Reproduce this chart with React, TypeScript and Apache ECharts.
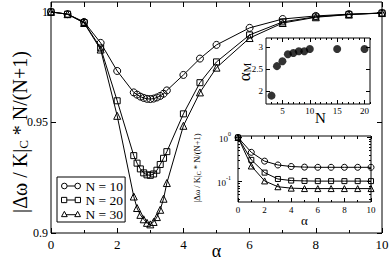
import React, { useEffect, useRef } from 'react';
import * as echarts from 'echarts';

// ---------- data ----------
const alphaMain = [0, 0.5, 1, 1.5, 2, 2.5, 2.6, 2.7, 2.8, 2.9, 3.0, 3.1, 3.2, 3.3, 3.4, 3.5, 4, 4.5, 5, 6, 7, 8, 9, 10];
const n10Main = [1, 0.999, 0.9955, 0.986, 0.9733, 0.9636, 0.9626, 0.9617, 0.9611, 0.9607, 0.9606, 0.9608, 0.9613, 0.962, 0.963, 0.9645, 0.9715, 0.9789, 0.9851, 0.9928, 0.9968, 0.9982, 0.999, 0.9995];
const n20Main = [1, 0.999, 0.9952, 0.9837, 0.9598, 0.935, 0.9316, 0.929, 0.9272, 0.9263, 0.9261, 0.9267, 0.9284, 0.931, 0.9338, 0.9368, 0.9539, 0.968, 0.9774, 0.9896, 0.9955, 0.9978, 0.9989, 0.9995];
const n30Main = [1, 0.999, 0.995, 0.983, 0.953, 0.9165, 0.9113, 0.9082, 0.9062, 0.9046, 0.9039, 0.905, 0.9072, 0.9105, 0.9155, 0.9226, 0.9485, 0.9636, 0.9748, 0.9882, 0.995, 0.9976, 0.9988, 0.9995];

const nInset = [3, 4, 5, 6, 7, 8, 9, 10, 15, 20];
const alphaM = [1.89, 2.56, 2.67, 2.83, 2.86, 2.9, 2.9, 2.95, 2.95, 2.95];

const alphaLog = [0, 1, 2, 3, 4, 5, 6, 7, 8, 9, 10];
const n10Log = [1, 0.46, 0.29, 0.237, 0.219, 0.212, 0.21, 0.21, 0.21, 0.21, 0.21];
const n20Log = [1, 0.31, 0.159, 0.114, 0.105, 0.103, 0.102, 0.102, 0.102, 0.102, 0.102];
const n30Log = [1, 0.225, 0.103, 0.076, 0.0705, 0.069, 0.069, 0.069, 0.069, 0.069, 0.069];

const legendNames = ['N = 10', 'N = 20', 'N = 30'];
const mainYTicks = [0.9, 0.95, 1];
const insetXMajor = [5, 10, 15, 20];
const insetXMinor = [3, 4, 6, 7, 8, 9, 11, 12, 13, 14, 16, 17, 18, 19, 21];
const insetYTicks = [2, 2.5, 3];
const logMajor = [0.1, 1];
const logMinor = [0.04, 0.05, 0.06, 0.07, 0.08, 0.09, 0.2, 0.3, 0.4, 0.5, 0.6, 0.7, 0.8, 0.9];

// ---------- styles ----------
const FONT = '"Liberation Serif", "DejaVu Serif", serif';
const BLACK = '#000';

const ICON_CIRCLE = 'path://M0.25,3A2.75,2.75,0,1,1,5.75,3A2.75,2.75,0,1,1,0.25,3Z M5.75,3L13.25,3 M13.25,3A2.75,2.75,0,1,1,18.75,3A2.75,2.75,0,1,1,13.25,3Z';
const ICON_SQUARE = 'path://M0.5,0.5L5.5,0.5L5.5,5.5L0.5,5.5Z M5.5,3L13.5,3 M13.5,0.5L18.5,0.5L18.5,5.5L13.5,5.5Z';
const ICON_TRI = 'path://M3,0.3L5.8,5.5L0.2,5.5Z M4.6,3.6L14.4,3.6 M16,0.3L18.8,5.5L13.2,5.5Z';

const zip = (xs: number[], ys: number[]) => xs.map((x, i) => [x, ys[i]]);

const hollow = { color: 'none', borderColor: BLACK, borderWidth: 1 };

function tickAxis(o: any) {
  return {
    type: 'value',
    axisLine: { show: false, onZero: false },
    splitLine: { show: false },
    axisLabel: { show: false },
    nameMoveOverlap: false,
    ...o,
    axisTick: { show: true, inside: true, length: 4, lineStyle: { color: BLACK, width: 1 }, ...(o.axisTick || {}) },
  };
}

const labelStyle = (size: number, margin: number, extra: any = {}) => ({
  show: true, color: BLACK, fontFamily: FONT, fontSize: size, margin, ...extra,
});

const gridBase = { show: true, borderColor: BLACK, borderWidth: 1, containLabel: false, outerBoundsMode: 'none' };

const option: any = {
  animation: false,
  backgroundColor: '#fff',
  textStyle: { fontFamily: FONT, color: BLACK },
  grid: [
    { ...gridBase, left: 51, top: 2, width: 331, height: 231, backgroundColor: 'transparent' },
    { ...gridBase, left: 266, top: 38, width: 104, height: 66, backgroundColor: '#fff' },
    { ...gridBase, left: 238, top: 136, width: 133, height: 66, backgroundColor: '#fff' },
  ],
  xAxis: [
    tickAxis({
      gridIndex: 0, position: 'bottom', min: 0, max: 10, interval: 2,
      axisTick: { length: 5 },
      minorTick: { show: true, splitNumber: 2, length: 3, lineStyle: { color: BLACK } },
      axisLabel: labelStyle(13, 5),
      name: 'α', nameLocation: 'middle', nameGap: 11,
      nameTextStyle: { fontFamily: FONT, fontSize: 18, lineHeight: 14, color: BLACK },
    }),
    tickAxis({ gridIndex: 0, position: 'top', min: 0, max: 10, interval: 1, axisTick: { length: 5 } }),
    tickAxis({
      gridIndex: 1, position: 'bottom', min: 2, max: 21,
      axisTick: { length: 4, customValues: insetXMajor },
      axisLabel: labelStyle(9, 2, { customValues: insetXMajor }),
      name: 'N', nameLocation: 'middle', nameGap: 7,
      nameTextStyle: { fontFamily: FONT, fontSize: 15, lineHeight: 14, color: BLACK, padding: [0, 0, 0, 5] },
    }),
    tickAxis({ gridIndex: 1, position: 'bottom', min: 2, max: 21, axisTick: { length: 2, customValues: insetXMinor } }),
    tickAxis({ gridIndex: 1, position: 'top', min: 2, max: 21, axisTick: { length: 4, customValues: insetXMajor } }),
    tickAxis({ gridIndex: 1, position: 'top', min: 2, max: 21, axisTick: { length: 2, customValues: insetXMinor } }),
    tickAxis({
      gridIndex: 2, position: 'bottom', min: 0, max: 10, interval: 2,
      axisTick: { length: 4 },
      minorTick: { show: true, splitNumber: 2, length: 2, lineStyle: { color: BLACK } },
      axisLabel: labelStyle(9, 3),
      name: 'α', nameLocation: 'middle', nameGap: 12,
      nameTextStyle: { fontFamily: FONT, fontSize: 13, lineHeight: 12, color: BLACK },
    }),
    tickAxis({ gridIndex: 2, position: 'top', min: 0, max: 10, interval: 1, axisTick: { length: 3 } }),
  ],
  yAxis: [
    tickAxis({
      gridIndex: 0, position: 'left', min: 0.9, max: 1.0045,
      axisTick: { length: 5, customValues: mainYTicks },
      axisLabel: labelStyle(12, 3, { customValues: mainYTicks }),
    }),
    tickAxis({ gridIndex: 0, position: 'right', min: 0.9, max: 1.0045, axisTick: { length: 5, customValues: mainYTicks } }),
    tickAxis({
      gridIndex: 1, position: 'left', min: 1.7, max: 3.2,
      axisTick: { length: 4, customValues: insetYTicks },
      axisLabel: labelStyle(9, 3, { customValues: insetYTicks }),
    }),
    tickAxis({ gridIndex: 1, position: 'right', min: 1.7, max: 3.2, axisTick: { length: 4, customValues: insetYTicks } }),
    tickAxis({
      type: 'log', logBase: 10, gridIndex: 2, position: 'left', min: 0.0342, max: 1.08,
      axisTick: { length: 4, customValues: logMajor },
      axisLabel: labelStyle(9, 7, {
        customValues: logMajor,
        formatter: (v: number) => (v > 0.5 ? '{b|10}{sup|0}' : '{b|10}{sup|-1}'),
        rich: {
          b: { fontFamily: FONT, fontSize: 9, lineHeight: 12, verticalAlign: 'bottom', color: BLACK },
          sup: { fontFamily: FONT, fontSize: 6, lineHeight: 6, verticalAlign: 'top', color: BLACK },
        },
      }),
    }),
    tickAxis({ type: 'log', logBase: 10, gridIndex: 2, position: 'left', min: 0.0342, max: 1.08, axisTick: { length: 2, customValues: logMinor } }),
    tickAxis({ type: 'log', logBase: 10, gridIndex: 2, position: 'right', min: 0.0342, max: 1.08, axisTick: { length: 4, customValues: logMajor } }),
    tickAxis({ type: 'log', logBase: 10, gridIndex: 2, position: 'right', min: 0.0342, max: 1.08, axisTick: { length: 2, customValues: logMinor } }),
  ],
  legend: {
    orient: 'vertical', left: 57, top: 177, padding: [2, 2, 1, 2], itemGap: 0,
    itemWidth: 19, itemHeight: 6, selectedMode: false,
    backgroundColor: '#fff', borderColor: BLACK, borderWidth: 1, borderRadius: 0,
    textStyle: { fontFamily: FONT, fontSize: 13.5, color: BLACK, lineHeight: 13 },
    data: [
      { name: legendNames[0], icon: ICON_CIRCLE, itemStyle: hollow },
      { name: legendNames[1], icon: ICON_SQUARE, itemStyle: hollow },
      { name: legendNames[2], icon: ICON_TRI, itemStyle: hollow },
    ],
  },
  series: [
    { name: legendNames[0], type: 'line', xAxisIndex: 0, yAxisIndex: 0, data: zip(alphaMain, n10Main), symbol: 'circle', symbolSize: 7, itemStyle: hollow, lineStyle: { color: BLACK, width: 1 } },
    { name: legendNames[1], type: 'line', xAxisIndex: 0, yAxisIndex: 0, data: zip(alphaMain, n20Main), symbol: 'rect', symbolSize: 6, itemStyle: hollow, lineStyle: { color: BLACK, width: 1 } },
    { name: legendNames[2], type: 'line', xAxisIndex: 0, yAxisIndex: 0, data: zip(alphaMain, n30Main), symbol: 'triangle', symbolSize: 7, itemStyle: hollow, lineStyle: { color: BLACK, width: 1 } },
    { name: 'alpha_M', type: 'scatter', xAxisIndex: 2, yAxisIndex: 2, data: zip(nInset, alphaM), symbol: 'circle', symbolSize: 8, itemStyle: { color: BLACK } },
    { name: 'log N10', type: 'line', xAxisIndex: 6, yAxisIndex: 4, data: zip(alphaLog, n10Log), symbol: 'circle', symbolSize: 6, itemStyle: hollow, lineStyle: { color: BLACK, width: 1 } },
    { name: 'log N20', type: 'line', xAxisIndex: 6, yAxisIndex: 4, data: zip(alphaLog, n20Log), symbol: 'rect', symbolSize: 5, itemStyle: hollow, lineStyle: { color: BLACK, width: 1 } },
    { name: 'log N30', type: 'line', xAxisIndex: 6, yAxisIndex: 4, data: zip(alphaLog, n30Log), symbol: 'triangle', symbolSize: 6, itemStyle: hollow, lineStyle: { color: BLACK, width: 1 } },
  ],
  graphic: [
    {
      type: 'text', x: 20, y: 132, rotation: Math.PI / 2, silent: true,
      style: {
        text: '|Δω / K|{sub|C} * N/(N+1)', fontFamily: FONT, fontSize: 20, fill: BLACK,
        align: 'center', verticalAlign: 'middle',
        rich: { sub: { fontFamily: FONT, fontSize: 13, lineHeight: 9, verticalAlign: 'bottom', fill: BLACK } },
      },
    },
    {
      type: 'text', x: 244, y: 72, rotation: Math.PI / 2, silent: true,
      style: {
        text: 'α{sub|M}', fontFamily: FONT, fontSize: 17, fill: BLACK,
        align: 'center', verticalAlign: 'middle',
        rich: { sub: { fontFamily: FONT, fontSize: 11, lineHeight: 7, verticalAlign: 'bottom', fill: BLACK } },
      },
    },
    {
      type: 'text', x: 197, y: 168, rotation: Math.PI / 2, silent: true,
      style: {
        text: '|Δω / K|{sub|C} * N/(N+1)', fontFamily: FONT, fontSize: 8.5, fill: BLACK,
        align: 'center', verticalAlign: 'middle',
        rich: { sub: { fontFamily: FONT, fontSize: 6, lineHeight: 4, verticalAlign: 'bottom', fill: BLACK } },
      },
    },
  ],
};

export default function App() {
  const ref = useRef<HTMLDivElement>(null);
  useEffect(() => {
    const chart = echarts.init(ref.current as HTMLDivElement, null, { renderer: 'svg' });
    chart.setOption(option);
    return () => chart.dispose();
  }, []);
  return (
    <div
      ref={ref}
      style={{ position: 'fixed', left: 0, top: 0, width: 390, height: 261, background: '#fff' }}
    />
  );
}
